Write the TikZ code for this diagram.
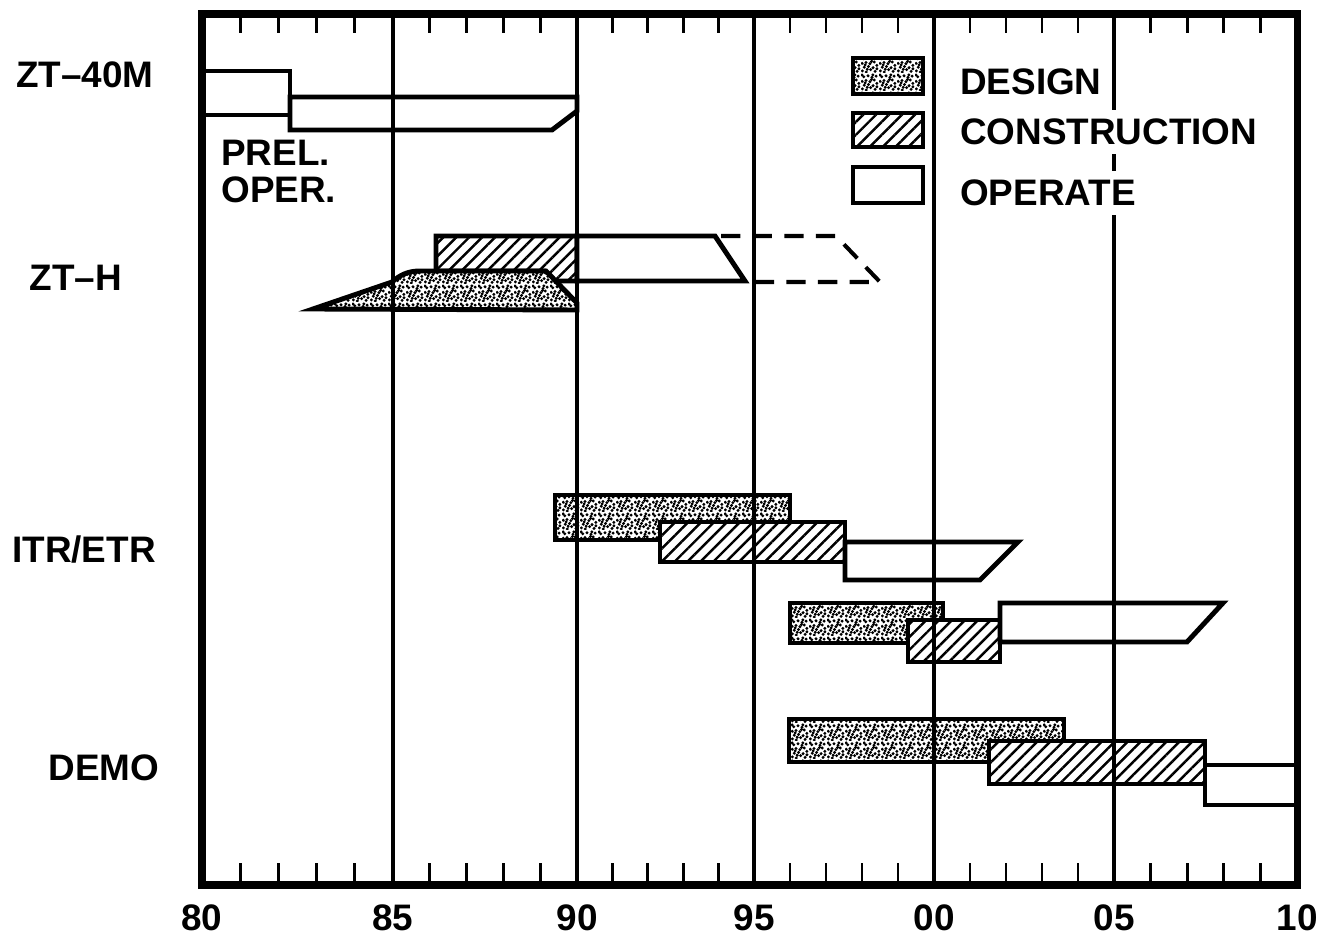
\documentclass[tikz,border=0pt]{standalone}
\usepackage{fontspec}
\setmainfont{Liberation Sans}
\usetikzlibrary{patterns,patterns.meta}

\tikzdeclarepattern{
  name=stipple,
  type=uncolored,
  bounding box={(0pt,0pt) and (10pt,10pt)},
  tile size={(10pt,10pt)},
  code={
    \foreach \a/\b in {0.8/1.2,3.1/0.6,5.6/1.9,8.2/0.9,1.9/3.3,4.4/3.8,7.0/3.1,9.2/4.4,
                       0.7/5.6,2.9/6.1,5.2/5.4,7.7/6.4,1.6/8.2,4.1/8.8,6.4/7.9,8.8/8.6,
                       3.6/2.2,6.9/9.3,0.6/9.3,9.3/2.4,2.4/4.7,6.1/6.6}
      \fill (\a pt,\b pt) circle (0.95pt);
  }
}

\begin{document}
\begin{tikzpicture}[x=0.02cm,y=-0.02cm,line join=miter,
    font=\fontsize{21}{24}\selectfont\bfseries,
    bar/.style={draw,line width=2.8pt,preaction={fill=white}},
    design/.style={bar,pattern=stipple},
    build/.style={bar,pattern={Lines[angle=45,distance=5.2pt,line width=1.4pt]}},
    operate/.style={bar},
    rule/.style={line width=2.4pt},
    tick/.style={line width=1.5pt},
    key/.style={anchor=west,fill=white,inner sep=5pt}]
\useasboundingbox (0,0) rectangle (1322,952);

% year lines
\foreach \n/\x in {80/202,85/393,90/577,95/754,00/934,05/1114,10/1297}{
  \coordinate (T\n) at (\x,14);
  \coordinate (B\n) at (\x,885);
}

% ZT-40M
\draw[operate] (202,71) rectangle (290,115);
\draw[operate] (290,97) -- (577,97) -- (577,111) -- (552,130) -- (290,130) -- cycle;

% ZT-H
\draw[build] (436,236) -- (577,236) -- (577,281) -- (555,281) -- (545,271) -- (436,271) -- cycle;
\draw[design] (313,309) -- (392,282) .. controls (400,275) and (408,271) .. (420,271)
  -- (546,271) -- (577,303) -- (577,310) -- cycle;
\draw[operate] (577,236) -- (715,236) -- (745,281) -- (577,281) -- cycle;
\draw[line width=2.3pt,dash pattern=on 11pt off 7pt] (721,236) -- (836,236) -- (880,282) -- (750,282);

% ITR/ETR
\draw[design] (555,495) rectangle (790,540);
\draw[build] (660,522) rectangle (845,562);
\draw[operate] (845,542) -- (1018,542) -- (980,580) -- (845,580) -- cycle;
\draw[design] (790,603) rectangle (943,643);
\draw[build] (908,620) rectangle (1000,662);
\draw[operate] (1000,603) -- (1223,603) -- (1187,642) -- (1000,642) -- cycle;

% DEMO
\draw[design] (789,719) rectangle (1064,762);
\draw[build] (989,741) rectangle (1205,784);
\draw[operate] (1205,765) rectangle (1297,805);

% legend boxes
\draw[design] (853,58) rectangle (923,94);
\draw[build] (853,113) rectangle (923,147);
\draw[operate] (853,167) rectangle (923,203);

% grid, ticks and frame
\foreach \n in {85,90,95,00,05}
  \draw[rule] (T\n) -- (B\n);
\foreach \a/\b in {202/393,393/577,577/754,754/934,934/1114,1114/1297}
  \foreach \k in {1,2,3,4}{
    \draw[tick] ({\a+\k*(\b-\a)/5},14) -- ++(0,19);
    \draw[tick] ({\a+\k*(\b-\a)/5},885) -- ++(0,-22);
  }
\draw[line width=4pt] (T80) rectangle (B10);

% labels
\foreach \n in {80,85,90,95,00,05,10}
  \path (B\n) ++(0,33) node (L\n) {\n};
\node (zt40) at (85,75) {ZT--40M};
\node (zth) at (76,278) {ZT--H};
\node (itr) at (84,550) {ITR/ETR};
\node (demo) at (104,768) {DEMO};
\node[anchor=north west,inner sep=0pt,align=left,font=\fontsize{21}{21}\selectfont\bfseries] (prel) at (221,140) {PREL.\\OPER.};
\node[key] (kdesign) at (951,82) {DESIGN};
\node[key] (kbuild) at (951,132) {CONSTRUCTION};
\node[key] (koper) at (951,193) {OPERATE};
\end{tikzpicture}
\end{document}
